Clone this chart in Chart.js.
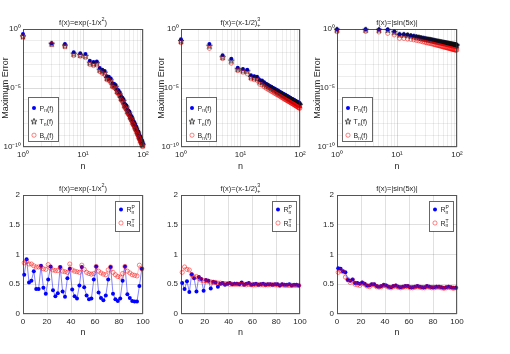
<!DOCTYPE html>
<html>
<head>
<meta charset="utf-8">
<script src="https://cdn.jsdelivr.net/npm/chart.js@4.4.0/dist/chart.umd.min.js"></script>
<style>
  body { margin: 0; background: #fff; }
  #wrap { position: relative; width: 510px; height: 354px; overflow: hidden; }
  #wrap canvas { position: absolute; left: 0; top: 0; }
</style>
</head>
<body>
<div id="wrap">
  <canvas id="c1" width="510" height="354"></canvas>
  <canvas id="c2" width="510" height="354"></canvas>
  <canvas id="c3" width="510" height="354"></canvas>
  <canvas id="c4" width="510" height="354"></canvas>
  <canvas id="c5" width="510" height="354"></canvas>
  <canvas id="c6" width="510" height="354"></canvas>
</div>
<script>
// polynomial degree n (odd values only)
const nOdd = [1,3,5,7,9,11,13,15,17,19,21,23,25,27,29,31,33,35,37,39,41,43,45,47,49,
              51,53,55,57,59,61,63,65,67,69,71,73,75,77,79,81,83,85,87,89,91,93,95,97,99];

// maximum error, given as log10 values
// f(x)=exp(-1/x^2)
const logP1 = [-0.42,-1.20,-1.27,-1.97,-2.06,-2.12,-2.70,-2.80,-2.75,-3.30,-3.45,-3.55,-4.00,-4.05,-4.20,-4.60,-4.65,-4.75,-5.10,-5.20,-5.40,-5.70,-5.80,-5.95,-6.30,
               -6.40,-6.50,-6.80,-6.90,-7.00,-7.25,-7.35,-7.45,-7.70,-7.80,-7.90,-8.10,-8.20,-8.30,-8.50,-8.60,-8.70,-8.90,-9.00,-9.10,-9.25,-9.35,-9.45,-9.60,-9.70];
const logT1 = [-0.62,-1.25,-1.40,-2.10,-2.20,-2.28,-2.85,-2.95,-2.90,-3.45,-3.58,-3.70,-4.15,-4.20,-4.35,-4.75,-4.80,-4.90,-5.25,-5.35,-5.55,-5.85,-5.95,-6.10,-6.45,
               -6.55,-6.65,-6.95,-7.05,-7.15,-7.40,-7.50,-7.60,-7.85,-7.95,-8.05,-8.25,-8.35,-8.45,-8.65,-8.75,-8.85,-9.05,-9.15,-9.25,-9.40,-9.50,-9.60,-9.75,-9.85];
const logB1 = [-0.66,-1.30,-1.50,-2.25,-2.30,-2.42,-3.00,-3.10,-3.05,-3.60,-3.75,-3.85,-4.30,-4.35,-4.50,-4.90,-4.95,-5.05,-5.40,-5.50,-5.70,-6.00,-6.10,-6.25,-6.60,
               -6.70,-6.80,-7.10,-7.20,-7.30,-7.55,-7.65,-7.75,-8.00,-8.10,-8.20,-8.40,-8.50,-8.60,-8.80,-8.90,-9.00,-9.20,-9.30,-9.40,-9.55,-9.65,-9.75,-9.90,-9.96];
// f(x)=(x-1/2)^3_+
const logP2 = [-0.87,-1.27,-2.23,-2.52,-3.28,-3.39,-3.45,-3.93,-4.00,-4.04,-4.32,-4.36,-4.52,-4.64,-4.73,-4.82,-4.90,-4.97,-5.04,-5.11,-5.18,-5.23,-5.29,-5.35,-5.40,
               -5.46,-5.50,-5.55,-5.60,-5.64,-5.68,-5.72,-5.76,-5.80,-5.84,-5.88,-5.91,-5.95,-5.98,-6.01,-6.04,-6.08,-6.10,-6.14,-6.16,-6.19,-6.22,-6.25,-6.28,-6.30];
const logT2 = [-1.02,-1.42,-2.38,-2.68,-3.40,-3.52,-3.58,-4.06,-4.12,-4.16,-4.44,-4.49,-4.65,-4.77,-4.86,-4.95,-5.03,-5.10,-5.17,-5.24,-5.31,-5.36,-5.42,-5.48,-5.53,
               -5.59,-5.63,-5.68,-5.73,-5.77,-5.81,-5.85,-5.89,-5.93,-5.97,-6.01,-6.04,-6.08,-6.11,-6.14,-6.17,-6.21,-6.23,-6.27,-6.29,-6.32,-6.35,-6.38,-6.41,-6.43];
const logB2 = [-1.16,-1.64,-2.50,-2.90,-3.52,-3.66,-3.80,-4.22,-4.30,-4.36,-4.68,-4.74,-4.90,-5.02,-5.11,-5.20,-5.28,-5.35,-5.42,-5.49,-5.56,-5.61,-5.67,-5.73,-5.78,
               -5.84,-5.89,-5.94,-5.99,-6.03,-6.07,-6.11,-6.15,-6.19,-6.23,-6.27,-6.30,-6.34,-6.37,-6.40,-6.44,-6.48,-6.50,-6.54,-6.57,-6.60,-6.63,-6.66,-6.69,-6.72];
// f(x)=|sin(5x)|
const logP3 = [-0.03,-0.03,-0.04,-0.05,-0.22,-0.44,-0.45,-0.48,-0.55,-0.60,-0.64,-0.68,-0.72,-0.76,-0.79,-0.82,-0.85,-0.87,-0.90,-0.92,-0.95,-0.97,-0.99,-1.01,-1.03,
               -1.05,-1.07,-1.08,-1.10,-1.12,-1.13,-1.15,-1.16,-1.17,-1.19,-1.20,-1.21,-1.23,-1.24,-1.25,-1.26,-1.27,-1.28,-1.30,-1.30,-1.32,-1.32,-1.34,-1.34,-1.36];
const logT3 = [-0.06,-0.06,-0.07,-0.09,-0.27,-0.48,-0.49,-0.52,-0.59,-0.64,-0.68,-0.72,-0.76,-0.80,-0.83,-0.86,-0.89,-0.91,-0.94,-0.96,-0.99,-1.01,-1.03,-1.05,-1.07,
               -1.09,-1.11,-1.12,-1.14,-1.16,-1.17,-1.19,-1.20,-1.21,-1.23,-1.24,-1.25,-1.27,-1.28,-1.29,-1.30,-1.31,-1.32,-1.34,-1.34,-1.36,-1.36,-1.38,-1.38,-1.40];
const logB3 = [-0.23,-0.20,-0.25,-0.37,-0.50,-0.79,-0.80,-0.85,-0.88,-0.92,-0.96,-1.00,-1.04,-1.09,-1.12,-1.16,-1.19,-1.21,-1.25,-1.27,-1.30,-1.33,-1.35,-1.38,-1.40,
               -1.42,-1.45,-1.46,-1.49,-1.51,-1.52,-1.55,-1.56,-1.58,-1.60,-1.61,-1.63,-1.65,-1.66,-1.68,-1.69,-1.70,-1.72,-1.74,-1.74,-1.76,-1.77,-1.78,-1.78,-1.79];

// ratios R_n^P and R_n^T
const rP4 = [0.66,0.92,0.53,0.56,0.72,0.42,0.42,0.81,0.44,0.34,0.58,0.80,0.40,0.30,0.35,0.79,0.38,0.29,0.60,0.76,0.41,0.30,0.26,0.48,0.79,
             0.45,0.31,0.25,0.26,0.58,0.80,0.36,0.27,0.23,0.31,0.58,0.79,0.34,0.25,0.22,0.26,0.56,0.80,0.33,0.27,0.22,0.21,0.21,0.47,0.76];
const rT4 = [0.86,0.88,0.84,0.84,0.81,0.79,0.79,0.79,0.76,0.75,0.83,0.77,0.74,0.73,0.73,0.78,0.72,0.71,0.70,0.84,0.74,0.72,0.71,0.70,0.82,
             0.75,0.70,0.68,0.67,0.68,0.80,0.72,0.69,0.67,0.66,0.74,0.79,0.70,0.66,0.63,0.62,0.68,0.80,0.72,0.69,0.66,0.65,0.64,0.82,0.76];
const rP5 = [0.52,0.42,0.55,0.37,0.67,0.60,0.38,0.62,0.59,0.39,0.57,0.56,0.43,0.54,0.53,0.46,0.51,0.52,0.49,0.51,0.52,0.50,0.51,0.51,0.50,
             0.53,0.49,0.51,0.52,0.49,0.50,0.51,0.49,0.50,0.51,0.49,0.50,0.50,0.49,0.50,0.50,0.48,0.50,0.49,0.49,0.50,0.48,0.49,0.49,0.48];
const rT5 = [0.70,0.79,0.75,0.74,0.66,0.62,0.63,0.60,0.57,0.56,0.56,0.55,0.54,0.53,0.53,0.52,0.52,0.51,0.51,0.51,0.50,0.50,0.50,0.50,0.50,
             0.50,0.50,0.49,0.50,0.49,0.49,0.49,0.49,0.49,0.49,0.49,0.49,0.49,0.49,0.49,0.49,0.48,0.49,0.48,0.48,0.48,0.48,0.48,0.48,0.48];
const rP6 = [0.77,0.76,0.72,0.70,0.57,0.56,0.58,0.52,0.52,0.51,0.53,0.51,0.48,0.48,0.50,0.50,0.47,0.46,0.47,0.49,0.48,0.46,0.45,0.47,0.48,
             0.46,0.45,0.46,0.47,0.47,0.45,0.45,0.46,0.47,0.46,0.45,0.45,0.47,0.46,0.45,0.45,0.46,0.46,0.45,0.44,0.45,0.46,0.45,0.44,0.44];
const rT6 = [0.70,0.73,0.71,0.62,0.58,0.53,0.57,0.50,0.49,0.48,0.52,0.50,0.47,0.46,0.49,0.49,0.46,0.45,0.46,0.48,0.47,0.45,0.44,0.46,0.47,
             0.45,0.44,0.45,0.46,0.46,0.44,0.44,0.45,0.46,0.45,0.44,0.44,0.46,0.45,0.44,0.44,0.45,0.45,0.44,0.43,0.44,0.45,0.44,0.43,0.44];

// axis ticks
const yLogGrid = [1,1e-1,1e-2,1e-3,1e-4,1e-5,1e-6,1e-7,1e-8,1e-9,1e-10];
const xLogGrid = [1,2,3,4,5,6,7,8,9,10,20,30,40,50,60,70,80,90,100];
const yLogLabels = {'0': '10\u2070', '-5': '10\u207b\u2075', '-10': '10\u207b\u00b9\u2070'};
const xLogLabels = {'0': '10\u2070', '1': '10\u00b9', '2': '10\u00b2'};

const W = 510, H = 354;
const FONT = "'Liberation Sans', Arial, Helvetica, sans-serif";
const INK = '#262626';
const RED = 'rgba(255,0,0,0.7)';
const decor = {};

// pentagram marker for T_n
function starPath(g, cx, cy, r) {
  g.beginPath();
  for (let k = 0; k < 10; k++) {
    const rr = k % 2 === 0 ? r : r * 0.4;
    const a = -Math.PI / 2 + k * Math.PI / 5;
    const px = cx + rr * Math.cos(a), py = cy + rr * Math.sin(a);
    if (k === 0) g.moveTo(px, py); else g.lineTo(px, py);
  }
  g.closePath();
}
const starImg = document.createElement('canvas');
starImg.width = 8; starImg.height = 8;
(function () {
  const g = starImg.getContext('2d');
  g.strokeStyle = '#111';
  g.lineWidth = 0.75;
  starPath(g, 4, 4.3, 3.2);
  g.stroke();
})();

// text with sub/superscripts: segments {t, s: 0 normal, 1 sup, -1 sub, back: stack on previous}
function richLayout(ctx, segs, size) {
  let x = 0, prev = 0, maxX = 0;
  const out = [];
  segs.forEach(s => {
    const fs = s.s ? size * 0.72 : size;
    ctx.font = fs + 'px ' + FONT;
    if (s.back) x = prev;
    const w = ctx.measureText(s.t).width;
    out.push({t: s.t, x: x, fs: fs, dy: s.s === 1 ? -size * 0.42 : (s.s === -1 ? size * 0.28 : 0)});
    prev = x;
    x += w;
    maxX = Math.max(maxX, x);
  });
  return {parts: out, width: maxX};
}
function drawRich(ctx, segs, x, y, size, align) {
  const lay = richLayout(ctx, segs, size);
  const x0 = align === 'center' ? x - lay.width / 2 : x;
  ctx.fillStyle = INK;
  ctx.textBaseline = 'alphabetic';
  ctx.textAlign = 'left';
  lay.parts.forEach(p => {
    ctx.font = p.fs + 'px ' + FONT;
    ctx.fillText(p.t, x0 + p.x, y + p.dy);
  });
}

function drawMarker(ctx, kind, x, y) {
  if (kind === 'dot') {
    ctx.fillStyle = '#0000ff';
    ctx.beginPath(); ctx.arc(x, y, 2, 0, Math.PI * 2); ctx.fill();
  } else if (kind === 'star') {
    ctx.drawImage(starImg, x - 4, y - 4.3);
  } else {
    ctx.strokeStyle = RED;
    ctx.lineWidth = 0.7;
    ctx.beginPath(); ctx.arc(x, y, 2.1, 0, Math.PI * 2); ctx.stroke();
  }
}

const decorPlugin = {
  id: 'decor',
  afterDraw(chart) {
    const d = decor[chart.canvas.id];
    const ca = chart.chartArea;
    const ctx = chart.ctx;
    ctx.save();
    // axes box
    ctx.strokeStyle = 'rgba(38,38,38,0.75)';
    ctx.lineWidth = 1;
    ctx.strokeRect(Math.round(ca.left) + 0.5, Math.round(ca.top) + 0.5,
                   Math.round(ca.right - ca.left) - 1, Math.round(ca.bottom - ca.top) - 1);
    // title
    drawRich(ctx, d.title, (ca.left + ca.right) / 2, ca.top - 4.5, 7.5, 'center');
    // legend
    const lg = d.legend;
    let x0, y0;
    if (lg.corner === 'bl') { x0 = ca.left + 5; y0 = ca.bottom - 6 - lg.h; }
    else { x0 = ca.right - 4 - lg.w; y0 = ca.top + 6; }
    ctx.fillStyle = '#fff';
    ctx.fillRect(x0, y0, lg.w, lg.h);
    ctx.strokeStyle = 'rgba(38,38,38,0.7)';
    ctx.lineWidth = 1;
    ctx.strokeRect(Math.round(x0) + 0.5, Math.round(y0) + 0.5, Math.round(lg.w), Math.round(lg.h));
    lg.items.forEach((it, i) => {
      const yy = y0 + lg.first + i * lg.step;
      drawMarker(ctx, it.m, x0 + 6, yy);
      drawRich(ctx, it.segs, x0 + 11.5, yy + 2.5, 7, 'left');
    });
    ctx.restore();
  }
};

function baseOptions(box) {
  return {
    responsive: false,
    animation: false,
    events: [],
    layout: {padding: {left: box.l - box.yw, top: box.t, right: W - box.r, bottom: H - box.b - box.xh}},
    plugins: {legend: {display: false}, tooltip: {enabled: false}}
  };
}
const tickFont = {family: FONT, size: 8};
const titleFont = {family: FONT, size: 9};

function errorChart(id, box, title, logP, logT, logB) {
  const pts = arr => nOdd.map((n, i) => ({x: n, y: Math.pow(10, arr[i])}));
  decor[id] = {
    title: title,
    legend: {corner: 'bl', w: 30, h: 44, first: 11, step: 13.6, items: [
      {m: 'dot', segs: [{t: 'P'}, {t: 'n', s: -1}, {t: '(f)'}]},
      {m: 'star', segs: [{t: 'T'}, {t: 'n', s: -1}, {t: '(f)'}]},
      {m: 'circle', segs: [{t: 'B'}, {t: 'n', s: -1}, {t: '(f)'}]}
    ]}
  };
  const opts = baseOptions(box);
  opts.scales = {
    x: {
      type: 'logarithmic', min: 1, max: 100,
      afterFit: s => { s.height = box.xh; },
      afterBuildTicks: s => { s.ticks = xLogGrid.map(v => ({value: v})); },
      ticks: {autoSkip: false, maxRotation: 0, padding: 3, color: INK, font: tickFont,
        callback: v => xLogLabels[String(Math.round(Math.log10(v) * 1000) / 1000)] || ''},
      grid: {drawTicks: false, color: c => {
        const v = c.tick ? c.tick.value : 1;
        return Math.abs(Math.log10(v) - Math.round(Math.log10(v))) < 1e-6 ? 'rgba(0,0,0,0.14)' : 'rgba(0,0,0,0.07)';
      }},
      border: {display: false},
      title: {display: true, text: 'n', padding: 0, color: INK, font: titleFont}
    },
    y: {
      type: 'logarithmic', min: 1e-10, max: 1,
      afterFit: s => { s.width = box.yw; },
      afterBuildTicks: s => { s.ticks = yLogGrid.map(v => ({value: v})); },
      ticks: {autoSkip: false, padding: 2, color: INK, font: tickFont,
        callback: v => yLogLabels[String(Math.round(Math.log10(v)))] || ''},
      grid: {drawTicks: false, color: c => {
        const v = c.tick ? c.tick.value : 1;
        return Math.round(Math.log10(v)) % 5 === 0 ? 'rgba(0,0,0,0.14)' : 'rgba(0,0,0,0.07)';
      }},
      border: {display: false},
      title: {display: true, text: 'Maximum Error', padding: 0, color: INK, font: titleFont}
    }
  };
  new Chart(document.getElementById(id), {
    type: 'scatter',
    data: {datasets: [
      {label: 'P', data: pts(logP), pointStyle: 'circle', pointRadius: 2, pointBackgroundColor: '#0000ff',
       pointBorderColor: '#0000ff', pointBorderWidth: 0, clip: false, order: 3},
      {label: 'T', data: pts(logT), pointStyle: starImg, pointRadius: 3, clip: false, order: 2},
      {label: 'B', data: pts(logB), pointStyle: 'circle', pointRadius: 2.1, pointBackgroundColor: 'rgba(0,0,0,0)',
       pointBorderColor: RED, pointBorderWidth: 0.7, clip: false, order: 1}
    ]},
    options: opts,
    plugins: [decorPlugin]
  });
}

function ratioChart(id, box, title, rP, rT) {
  decor[id] = {
    title: title,
    legend: {corner: 'tr', w: 24, h: 30, first: 8.5, step: 13.5, items: [
      {m: 'dot', segs: [{t: 'R'}, {t: 'P', s: 1}, {t: 'n', s: -1, back: true}]},
      {m: 'circle', segs: [{t: 'R'}, {t: 'T', s: 1}, {t: 'n', s: -1, back: true}]}
    ]}
  };
  const opts = baseOptions(box);
  opts.scales = {
    x: {
      type: 'linear', min: 0, max: 100,
      afterFit: s => { s.height = box.xh; },
      ticks: {stepSize: 20, maxRotation: 0, padding: 3, color: INK, font: tickFont},
      grid: {drawTicks: false, color: 'rgba(0,0,0,0.12)'},
      border: {display: false},
      title: {display: true, text: 'n', padding: 0, color: INK, font: titleFont}
    },
    y: {
      type: 'linear', min: 0, max: 2,
      afterFit: s => { s.width = box.yw; },
      ticks: {stepSize: 0.5, padding: 3, color: INK, font: tickFont, callback: v => String(v)},
      grid: {drawTicks: false, color: 'rgba(0,0,0,0.12)'},
      border: {display: false}
    }
  };
  new Chart(document.getElementById(id), {
    type: 'scatter',
    data: {datasets: [
      {label: 'RP', data: nOdd.map((n, i) => ({x: n, y: rP[i]})), showLine: true,
       borderColor: 'rgba(50,50,255,0.6)', borderWidth: 1, pointStyle: 'circle', pointRadius: 2,
       pointBackgroundColor: '#0000ff', pointBorderWidth: 0, clip: false, order: 2},
      {label: 'RT', data: nOdd.map((n, i) => ({x: n, y: rT[i]})), showLine: true,
       borderColor: 'rgba(255,0,0,0.3)', borderWidth: 0.8, pointStyle: 'circle', pointRadius: 2.1,
       pointBackgroundColor: 'rgba(0,0,0,0)', pointBorderColor: RED, pointBorderWidth: 0.7,
       clip: false, order: 1}
    ]},
    options: opts,
    plugins: [decorPlugin]
  });
}

const tExp = [{t: 'f(x)=exp(-1/x'}, {t: '2', s: 1}, {t: ')'}];
const tCub = [{t: 'f(x)=(x-1/2)'}, {t: '3', s: 1}, {t: '+', s: -1, back: true}];
const tSin = [{t: 'f(x)=|sin(5x)|'}];

errorChart('c1', {l: 23, t: 29, r: 143, b: 147, yw: 23, xh: 25}, tExp, logP1, logT1, logB1);
errorChart('c2', {l: 181, t: 29, r: 300, b: 147, yw: 25, xh: 25}, tCub, logP2, logT2, logB2);
errorChart('c3', {l: 337, t: 29, r: 457, b: 147, yw: 25, xh: 25}, tSin, logP3, logT3, logB3);
ratioChart('c4', {l: 23, t: 195, r: 143, b: 314, yw: 22, xh: 24}, tExp, rP4, rT4);
ratioChart('c5', {l: 181, t: 195, r: 300, b: 314, yw: 22, xh: 24}, tCub, rP5, rT5);
ratioChart('c6', {l: 337, t: 195, r: 457, b: 314, yw: 22, xh: 24}, tSin, rP6, rT6);
</script>
</body>
</html>
